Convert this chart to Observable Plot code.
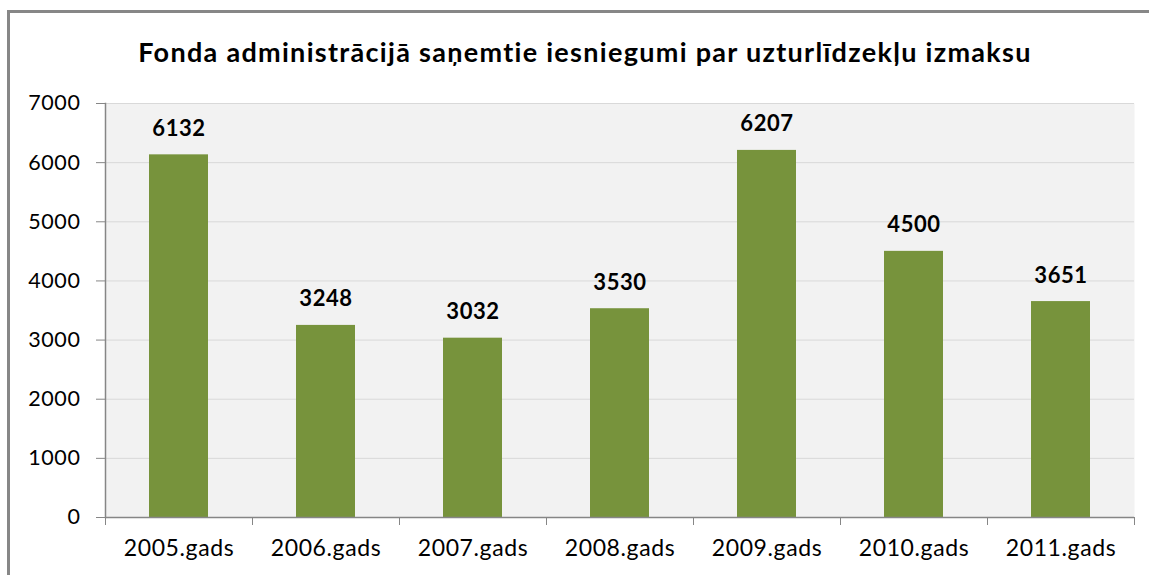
<!DOCTYPE html>
<html>
<head>
<meta charset="utf-8">
<script src="https://cdn.jsdelivr.net/npm/d3@7"></script>
<script src="https://cdn.jsdelivr.net/npm/@observablehq/plot@0.6"></script>
<style>
  html, body { margin: 0; padding: 0; background: #fff; overflow: hidden; width: 1149px; height: 575px; }
  #frame { position: absolute; left: 7px; top: 10px; width: 2000px; height: 2000px;
           border-left: 3px solid #878787; border-top: 3px solid #878787; box-sizing: border-box; }
  #title { position: absolute; left: 0; width: 1170px; top: 38px; text-align: center;
           font-family: Lato, "Open Sans", sans-serif; font-weight: bold; font-size: 27px; letter-spacing: 1.3px;
           line-height: 1; color: #000; white-space: nowrap; }
  #chart { position: absolute; left: 0; top: 0; }
  #chart svg text { letter-spacing: 0.6px; }
</style>
</head>
<body>
<div id="frame"></div>
<div id="chart"></div>
<div id="title">Fonda administrācijā saņemtie iesniegumi par uzturlīdzekļu izmaksu</div>
<script>
const categories = ["2005.gads", "2006.gads", "2007.gads", "2008.gads", "2009.gads", "2010.gads", "2011.gads"];
const values = [6132, 3248, 3032, 3530, 6207, 4500, 3651];
const yTicks = [0, 1000, 2000, 3000, 4000, 5000, 6000, 7000];

const data = categories.map((c, i) => ({cat: c, value: values[i]}));

const W = 1149, H = 575, mL = 105, mR = 15, mT = 103, mB = 58;
const step = (W - mL - mR) / categories.length;

const chart = Plot.plot({
  width: W, height: H,
  marginTop: mT, marginBottom: mB, marginLeft: mL, marginRight: mR,
  style: {background: "transparent", fontFamily: "Lato, 'Open Sans', sans-serif", color: "#000"},
  x: {domain: categories, paddingInner: 0.6, paddingOuter: 0.3, label: null},
  y: {domain: [0, 7000], label: null},
  marks: [
    Plot.frame({fill: "#f2f2f2", stroke: null}),
    Plot.gridY(yTicks, {stroke: "#d9d9d9", strokeOpacity: 1, strokeWidth: 1}),
    Plot.barY(data, {x: "cat", y: "value", fill: "#77933c"}),
    Plot.text(data, {x: "cat", y: "value", text: d => String(d.value), dy: -26,
      fontWeight: "bold", fontSize: 22, fill: "#000"}),
    Plot.axisY(yTicks, {tickSize: 9, tickPadding: 16, stroke: "#868686", fill: "#000",
      fontSize: 21.5, tickFormat: d => String(d), label: null}),
    Plot.frame({anchor: "left", stroke: "#868686", strokeWidth: 1.5}),
    Plot.ruleY([0], {stroke: "#868686", strokeWidth: 1.5}),
    Plot.axisX(categories, {tickSize: 8, dx: -step / 2, text: null, stroke: "#868686", label: null}),
    Plot.axisX([categories[categories.length - 1]], {tickSize: 8, dx: step / 2, text: null, stroke: "#868686", label: null}),
    Plot.axisX(categories, {tickSize: 0, tickPadding: 22, fontSize: 23, fill: "#000", label: null})
  ]
});
document.getElementById("chart").appendChild(chart);
</script>
</body>
</html>
